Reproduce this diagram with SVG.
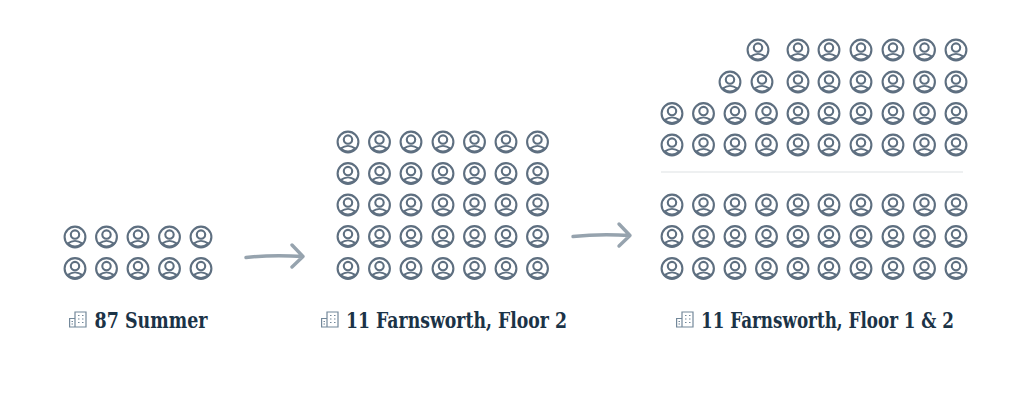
<svg xmlns="http://www.w3.org/2000/svg" xmlns:xlink="http://www.w3.org/1999/xlink" width="1024" height="402" viewBox="0 0 1024 402">
<style>
.p{fill:none;stroke:#5e6f80;stroke-width:2.1}
.a{fill:none;stroke:#96a3ae;stroke-width:3.4;stroke-linecap:round;stroke-linejoin:round}
.b{fill:none;stroke:#73889a;stroke-width:1.2}
.t{font-family:"DejaVu Serif","Liberation Serif",serif;font-weight:700;font-size:21.5px;fill:#1b3347}
</style>
<defs>
<g id="u" class="p"><circle r="10.4"/><circle cy="-2.4" r="4.2"/><path d="M-7.6 6.6Q-3.500 3.900 0 3.900T7.600 6.600Q3.500 9.500 0 9.500T-7.600 6.600Z" stroke-width="1.9"/></g>
<g id="bd" class="b"><path d="M0.600 7.500H6V16H0.600ZM6 16V1H17V16ZM2.500 10.500H4M2.500 13H4M9 4.500H10.500M13 4.500H14.500M9 8H10.500M13 8H14.500M9 11.500H10.500M13 11.500H14.500"/></g>
</defs>
<rect width="1024" height="402" fill="#fff"/>
<g id="cluster-87-summer">
<use href="#u" x="75" y="237"/><use href="#u" x="106.500" y="237"/><use href="#u" x="138" y="237"/><use href="#u" x="169.500" y="237"/><use href="#u" x="201" y="237"/>
<use href="#u" x="75" y="268.500"/><use href="#u" x="106.500" y="268.500"/><use href="#u" x="138" y="268.500"/><use href="#u" x="169.500" y="268.500"/><use href="#u" x="201" y="268.500"/>
<use href="#bd" x="69" y="311"/>
<text class="t" x="94.500" y="328" textLength="113" lengthAdjust="spacingAndGlyphs">87 Summer</text>
</g>
<g id="cluster-farnsworth-2">
<use href="#u" x="348" y="142"/><use href="#u" x="379.500" y="142"/><use href="#u" x="411" y="142"/><use href="#u" x="443" y="142"/><use href="#u" x="474.500" y="142"/><use href="#u" x="506" y="142"/><use href="#u" x="537.500" y="142"/>
<use href="#u" x="348" y="173.500"/><use href="#u" x="379.500" y="173.500"/><use href="#u" x="411" y="173.500"/><use href="#u" x="443" y="173.500"/><use href="#u" x="474.500" y="173.500"/><use href="#u" x="506" y="173.500"/><use href="#u" x="537.500" y="173.500"/>
<use href="#u" x="348" y="205"/><use href="#u" x="379.500" y="205"/><use href="#u" x="411" y="205"/><use href="#u" x="443" y="205"/><use href="#u" x="474.500" y="205"/><use href="#u" x="506" y="205"/><use href="#u" x="537.500" y="205"/>
<use href="#u" x="348" y="236.500"/><use href="#u" x="379.500" y="236.500"/><use href="#u" x="411" y="236.500"/><use href="#u" x="443" y="236.500"/><use href="#u" x="474.500" y="236.500"/><use href="#u" x="506" y="236.500"/><use href="#u" x="537.500" y="236.500"/>
<use href="#u" x="348" y="268.500"/><use href="#u" x="379.500" y="268.500"/><use href="#u" x="411" y="268.500"/><use href="#u" x="443" y="268.500"/><use href="#u" x="474.500" y="268.500"/><use href="#u" x="506" y="268.500"/><use href="#u" x="537.500" y="268.500"/>
<use href="#bd" x="321" y="311"/>
<text class="t" x="346" y="328" textLength="221" lengthAdjust="spacingAndGlyphs">11 Farnsworth, Floor 2</text>
</g>
<g id="cluster-farnsworth-1-2">
<use href="#u" x="758" y="50"/><use href="#u" x="798" y="50"/><use href="#u" x="829" y="50"/><use href="#u" x="861" y="50"/><use href="#u" x="893" y="50"/><use href="#u" x="924.500" y="50"/><use href="#u" x="956" y="50"/>
<use href="#u" x="730" y="82"/><use href="#u" x="762" y="82"/><use href="#u" x="798" y="82"/><use href="#u" x="829" y="82"/><use href="#u" x="861" y="82"/><use href="#u" x="893" y="82"/><use href="#u" x="924.500" y="82"/><use href="#u" x="956" y="82"/>
<use href="#u" x="672" y="113.500"/><use href="#u" x="703.500" y="113.500"/><use href="#u" x="735" y="113.500"/><use href="#u" x="766.500" y="113.500"/><use href="#u" x="798" y="113.500"/><use href="#u" x="829" y="113.500"/><use href="#u" x="861" y="113.500"/><use href="#u" x="893" y="113.500"/><use href="#u" x="924.500" y="113.500"/><use href="#u" x="956" y="113.500"/>
<use href="#u" x="672" y="145"/><use href="#u" x="703.500" y="145"/><use href="#u" x="735" y="145"/><use href="#u" x="766.500" y="145"/><use href="#u" x="798" y="145"/><use href="#u" x="829" y="145"/><use href="#u" x="861" y="145"/><use href="#u" x="893" y="145"/><use href="#u" x="924.500" y="145"/><use href="#u" x="956" y="145"/>
<path d="M661 172H963" stroke="#e9ebed" stroke-width="1.6" fill="none"/>
<use href="#u" x="672" y="205"/><use href="#u" x="703.500" y="205"/><use href="#u" x="735" y="205"/><use href="#u" x="766.500" y="205"/><use href="#u" x="798" y="205"/><use href="#u" x="829" y="205"/><use href="#u" x="861" y="205"/><use href="#u" x="893" y="205"/><use href="#u" x="924.500" y="205"/><use href="#u" x="956" y="205"/>
<use href="#u" x="672" y="236.500"/><use href="#u" x="703.500" y="236.500"/><use href="#u" x="735" y="236.500"/><use href="#u" x="766.500" y="236.500"/><use href="#u" x="798" y="236.500"/><use href="#u" x="829" y="236.500"/><use href="#u" x="861" y="236.500"/><use href="#u" x="893" y="236.500"/><use href="#u" x="924.500" y="236.500"/><use href="#u" x="956" y="236.500"/>
<use href="#u" x="672" y="268.500"/><use href="#u" x="703.500" y="268.500"/><use href="#u" x="735" y="268.500"/><use href="#u" x="766.500" y="268.500"/><use href="#u" x="798" y="268.500"/><use href="#u" x="829" y="268.500"/><use href="#u" x="861" y="268.500"/><use href="#u" x="893" y="268.500"/><use href="#u" x="924.500" y="268.500"/><use href="#u" x="956" y="268.500"/>
<use href="#bd" x="676" y="311"/>
<text class="t" x="701" y="328" textLength="253" lengthAdjust="spacingAndGlyphs">11 Farnsworth, Floor 1 &amp; 2</text>
</g>
<g id="connectors">
<path class="a" d="M246 257.500Q272 254.500 303 256.500M292 245L303 256.500L292 267"/>
<path class="a" d="M573 236.500Q600 233.500 630 235.500M619 224L630 235.500L619 246"/>
</g>
</svg>
